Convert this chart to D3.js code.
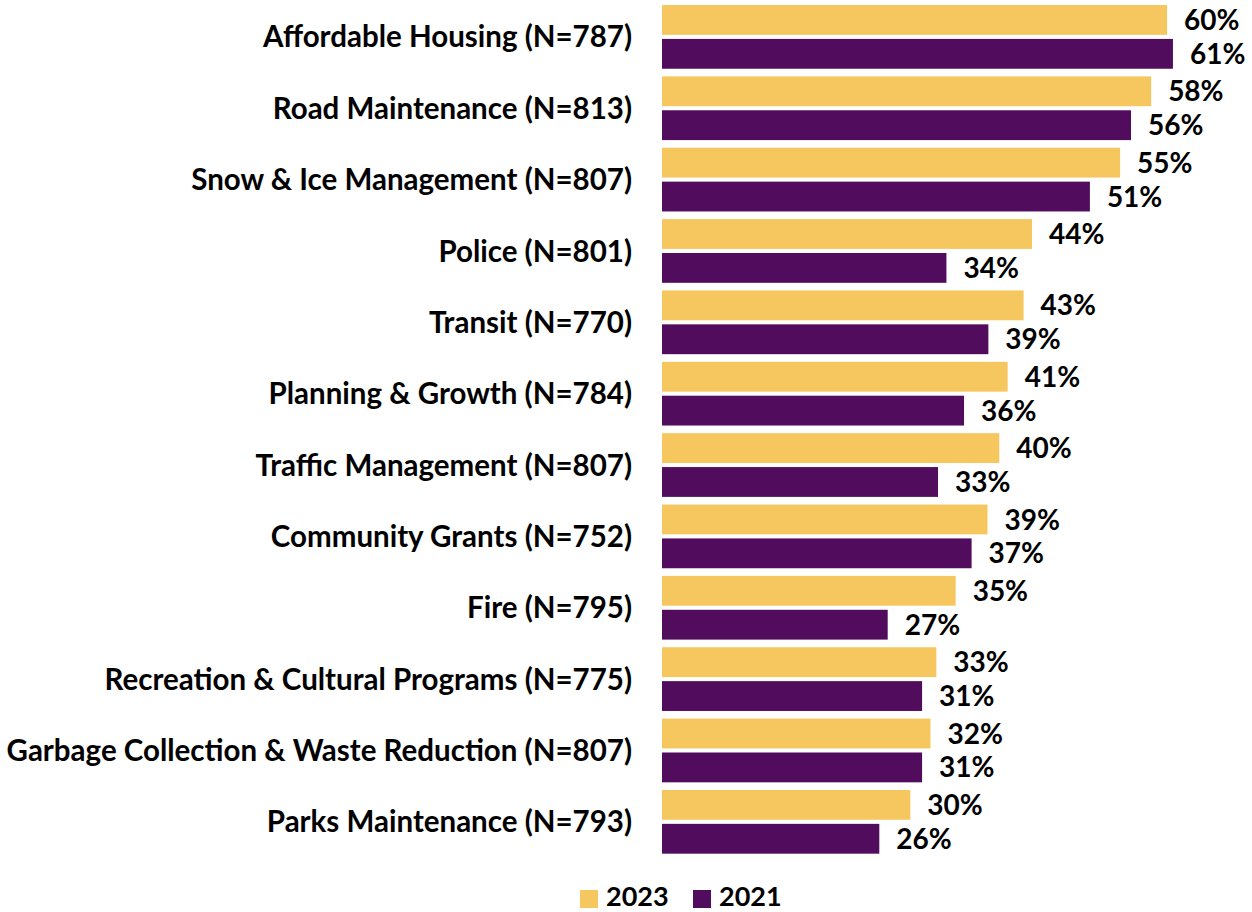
<!DOCTYPE html>
<html>
<head>
<meta charset="utf-8">
<script src="https://cdn.jsdelivr.net/npm/d3@7"></script>
<style>
  html, body { margin: 0; padding: 0; background: #ffffff; }
  svg { display: block; }
  text { font-family: Lato, "Open Sans", "Liberation Sans", sans-serif; font-weight: 700; fill: #000; }
</style>
</head>
<body>
<svg id="chart" width="1252" height="912"></svg>
<script>
const categories = [
  "Affordable Housing (N=787)",
  "Road Maintenance (N=813)",
  "Snow & Ice Management (N=807)",
  "Police (N=801)",
  "Transit (N=770)",
  "Planning & Growth (N=784)",
  "Traffic Management (N=807)",
  "Community Grants (N=752)",
  "Fire (N=795)",
  "Recreation & Cultural Programs (N=775)",
  "Garbage Collection & Waste Reduction (N=807)",
  "Parks Maintenance (N=793)"
];
const seriesNames = ["2023", "2021"];
const values2023 = [60.2, 58.3, 54.6, 44.1, 43.1, 41.2, 40.2, 38.8, 35.0, 32.7, 32.0, 29.6];
const values2021 = [60.9, 55.9, 51.0, 33.9, 38.9, 36.0, 32.9, 36.9, 26.9, 31.0, 31.0, 25.9];
const colors = ["#F7C75F", "#520C5E"];

const svg = d3.select("#chart");

const x = d3.scaleLinear().domain([0, 70]).range([662, 662 + 70 * 8.39]);
const y = d3.scaleBand().domain(categories).range([1.2, 857.5]).paddingInner(0.107).paddingOuter(0.0535);
const yInner = d3.scaleBand().domain(seriesNames).range([0, y.bandwidth()]).paddingInner(0.12);
const color = d3.scaleOrdinal().domain(seriesNames).range(colors);

const rows = categories.map((c, i) => ({
  cat: c,
  vals: [
    { s: seriesNames[0], v: values2023[i] },
    { s: seriesNames[1], v: values2021[i] }
  ]
}));

// category labels
svg.append("g")
  .selectAll("text")
  .data(categories)
  .join("text")
  .attr("x", x(0) - 30)
  .attr("y", d => y(d) + y.bandwidth() / 2)
  .attr("dy", "0.36em")
  .attr("text-anchor", "end")
  .style("font-size", "29.5px")
  .text(d => d);

const groups = svg.append("g")
  .selectAll("g")
  .data(rows)
  .join("g")
  .attr("transform", d => `translate(0,${y(d.cat)})`);

groups.selectAll("rect")
  .data(d => d.vals)
  .join("rect")
  .attr("x", x(0))
  .attr("y", d => yInner(d.s))
  .attr("width", d => x(d.v) - x(0))
  .attr("height", yInner.bandwidth())
  .attr("fill", d => color(d.s));

groups.selectAll("text")
  .data(d => d.vals)
  .join("text")
  .attr("x", d => x(d.v) + 17)
  .attr("y", d => yInner(d.s) + yInner.bandwidth() / 2)
  .attr("dy", "0.36em")
  .style("font-size", "28px")
  .text(d => Math.round(d.v) + "%");

// legend
const legend = svg.append("g");
const legendX = [580, 693];
seriesNames.forEach((s, i) => {
  legend.append("rect")
    .attr("x", legendX[i])
    .attr("y", 890)
    .attr("width", 18)
    .attr("height", 18)
    .attr("fill", color(s));
  legend.append("text")
    .attr("x", legendX[i] + 26)
    .attr("y", 906)
    .style("font-size", "27px")
    .text(s);
});
</script>
</body>
</html>
